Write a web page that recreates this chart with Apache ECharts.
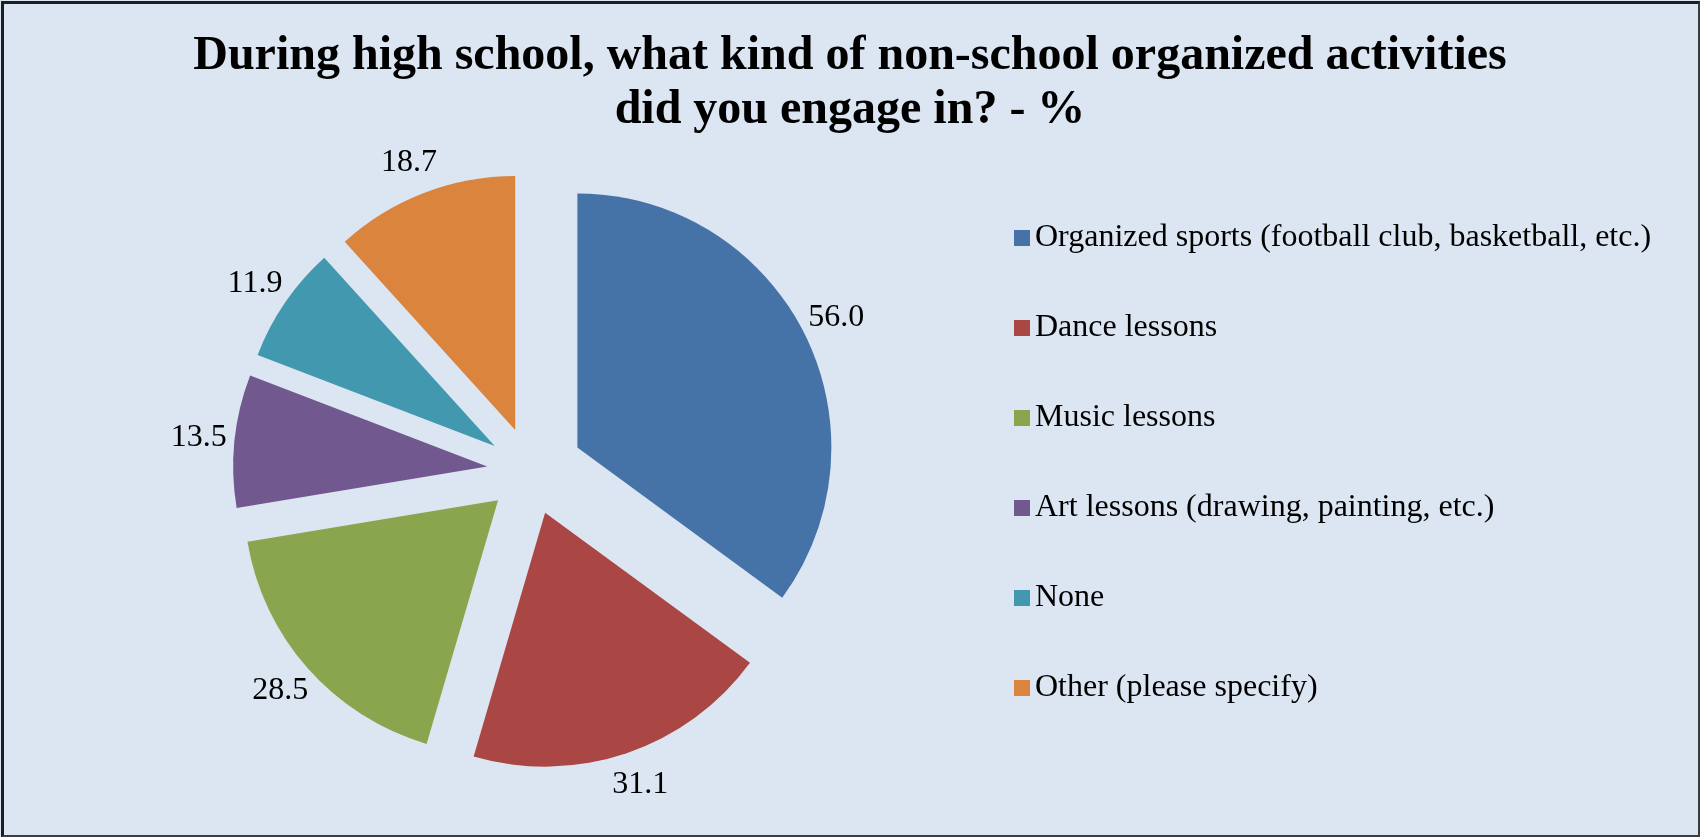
<!DOCTYPE html>
<html>
<head>
<meta charset="utf-8">
<script src="https://cdn.jsdelivr.net/npm/echarts@6/dist/echarts.min.js"></script>
<style>
  html, body { margin: 0; padding: 0; background: #ffffff; }
  #chart { position: absolute; left: 0; top: 0; width: 1700px; height: 837px; background: #DCE6F2; }
  #frame { position: absolute; left: 1px; top: 1px; width: 1699px; height: 836px; box-sizing: border-box;
           border-left: 3px solid #1e1e1e; border-top: 3px solid #1e1e1e;
           border-right: 2px solid #3c3c3c; border-bottom: 2px solid #3c3c3c; pointer-events: none; }
</style>
</head>
<body>
<div id="chart"></div>
<div id="frame"></div>
<script>
const titleText = 'During high school, what kind of non-school organized activities\ndid you engage in? - %';
const categories = [
  'Organized sports (football club, basketball, etc.)',
  'Dance lessons',
  'Music lessons',
  'Art lessons (drawing, painting, etc.)',
  'None',
  'Other (please specify)'
];
const values = [56.0, 31.1, 28.5, 13.5, 11.9, 18.7];
const colors = ['#4572A7', '#AA4643', '#89A54E', '#71588F', '#4198AF', '#DB843D'];

const FONT = "'Liberation Serif', 'Times New Roman', serif";

function buildData(visible) {
  return categories.map(function (name, i) {
    const show = visible(i);
    return {
      name: name,
      value: values[i],
      selected: true,
      itemStyle: { color: show ? colors[i] : 'rgba(0,0,0,0)' },
      label: { show: show }
    };
  });
}

function pieSeries(visible, offset) {
  return {
    type: 'pie',
    center: [531, 471],
    radius: 254,
    startAngle: 90,
    clockwise: true,
    selectedMode: 'multiple',
    selectedOffset: offset,
    avoidLabelOverlap: false,
    animation: false,
    itemStyle: { borderWidth: 0 },
    select: { itemStyle: { borderWidth: 0 } },
    emphasis: { disabled: true },
    label: {
      position: 'outside',
      fontFamily: FONT,
      fontSize: 32,
      color: '#000000',
      distanceToLabelLine: 3,
      formatter: function (p) { return Number(p.value).toFixed(1); }
    },
    labelLine: { show: false, length: 33, length2: 0 },
    labelLayout: { align: 'center' },
    data: buildData(visible)
  };
}

const chart = echarts.init(document.getElementById('chart'), null, { renderer: 'canvas' });
chart.setOption({
  backgroundColor: '#DCE6F2',
  animation: false,
  title: {
    text: titleText,
    left: 'center',
    top: 30,
    padding: 0,
    textStyle: { fontFamily: FONT, fontSize: 48, fontWeight: 'bold', color: '#000000', lineHeight: 54 }
  },
  legend: {
    orient: 'vertical',
    left: 1014,
    top: 222,
    padding: 0,
    icon: 'rect',
    itemWidth: 16,
    itemHeight: 16,
    itemGap: 58,
    selectedMode: false,
    textStyle: { fontFamily: FONT, fontSize: 32, lineHeight: 32, color: '#000000' },
    data: categories.map(function (n, i) { return { name: n, itemStyle: { color: colors[i] } }; })
  },
  series: [
    pieSeries(function (i) { return i !== 0; }, 44),
    pieSeries(function (i) { return i === 0; }, 52)
  ]
});
</script>
</body>
</html>
